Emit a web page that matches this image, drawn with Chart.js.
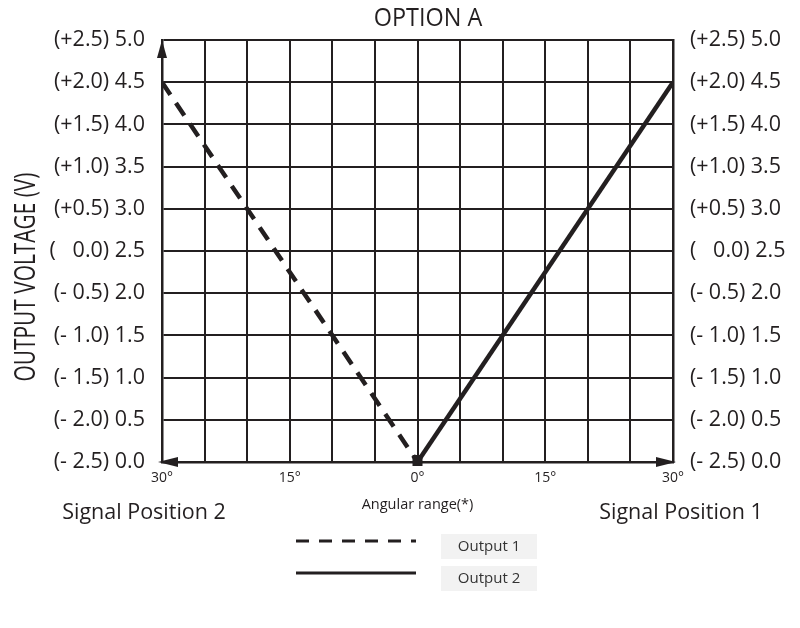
<!DOCTYPE html>
<html>
<head>
<meta charset="utf-8">
<script src="https://cdn.jsdelivr.net/npm/chart.js@4.4.1/dist/chart.umd.min.js"></script>
<style>
  html, body { margin: 0; padding: 0; background: #fff; }
  #wrap { width: 800px; height: 628px; }
</style>
</head>
<body>
<div id="wrap"><canvas id="optionA" width="800" height="628"></canvas></div>
<script>
// data
const out1Angle = [-30, 0];     // Output 1, signal position 2 side
const out1Volt  = [4.5, 0];
const out2Angle = [0, 30];      // Output 2, signal position 1 side
const out2Volt  = [0, 4.5];

const angleTickValues = [-30, -15, 0, 15, 30];
const angleTickText   = ['30°', '15°', '0°', '15°', '30°'];
const voltTickLabels  = ['(- 2.5) 0.0', '(- 2.0) 0.5', '(- 1.5) 1.0', '(- 1.0) 1.5', '(- 0.5) 2.0',
                         '(   0.0) 2.5', '(+0.5) 3.0', '(+1.0) 3.5', '(+1.5) 4.0', '(+2.0) 4.5', '(+2.5) 5.0'];
const legendNames = ['Output 1', 'Output 2'];

const ink = '#231f20';
const tickFont = { family: 'Open Sans', size: 21.5 };

function toPoints(xs, ys) {
  return xs.map((x, i) => ({ x: x, y: ys[i] }));
}

// condensed text: squeeze horizontally
function narrowText(ctx, text, x, y, rot, squeeze) {
  ctx.save();
  ctx.translate(x, y);
  ctx.rotate(rot);
  ctx.scale(squeeze, 1);
  ctx.fillText(text, 0, 0);
  ctx.restore();
}

// extra drawing: titles, arrows, origin mark, side labels, legend
const decorations = {
  id: 'decorations',
  afterDraw(chart) {
    const ctx = chart.ctx;
    const a = chart.chartArea;
    const xs = chart.scales.x;
    ctx.save();
    ctx.fillStyle = ink;
    ctx.textBaseline = 'middle';
    ctx.textAlign = 'center';

    // title + y title
    ctx.font = '500 26px "Open Sans", sans-serif';
    narrowText(ctx, 'OPTION A', 428, 19, 0, 0.9);
    ctx.font = '29px "Open Sans", sans-serif';
    narrowText(ctx, 'OUTPUT VOLTAGE (V)', 27, 277, -Math.PI / 2, 0.72);

    // arrows
    ctx.beginPath();
    ctx.moveTo(a.left, a.top); ctx.lineTo(a.left - 5, a.top + 18); ctx.lineTo(a.left + 5, a.top + 18);
    ctx.closePath(); ctx.fill();
    ctx.beginPath();
    ctx.moveTo(a.left - 4, a.bottom); ctx.lineTo(a.left + 16, a.bottom - 5); ctx.lineTo(a.left + 16, a.bottom + 5);
    ctx.closePath(); ctx.fill();
    ctx.beginPath();
    ctx.moveTo(a.right + 3, a.bottom); ctx.lineTo(a.right - 17, a.bottom - 5); ctx.lineTo(a.right - 17, a.bottom + 5);
    ctx.closePath(); ctx.fill();

    // origin mark
    const ox = xs.getPixelForValue(0);
    ctx.fillRect(ox - 5, a.bottom - 7, 10, 11);

    // side labels
    ctx.font = '21.5px "Open Sans", sans-serif';
    ctx.fillText('Signal Position 2', 144, 513);
    ctx.fillText('Signal Position 1', 681, 513);

    // legend
    const rows = [541, 573];
    rows.forEach((y, i) => {
      ctx.strokeStyle = ink;
      ctx.lineWidth = 3;
      ctx.setLineDash(i === 0 ? [13, 10] : []);
      ctx.beginPath();
      ctx.moveTo(296, y); ctx.lineTo(416, y);
      ctx.stroke();
      ctx.setLineDash([]);
      ctx.fillStyle = '#f2f2f2';
      ctx.fillRect(441, y - 7, 96, 25);
      ctx.fillStyle = '#333';
      ctx.font = '15px "Open Sans", sans-serif';
      ctx.fillText(legendNames[i], 489, y + 6);
    });
    ctx.restore();
  }
};

new Chart(document.getElementById('optionA'), {
  type: 'line',
  data: {
    datasets: [
      {
        label: legendNames[0],
        data: toPoints(out1Angle, out1Volt),
        borderColor: ink,
        borderWidth: 4.5,
        borderDash: [15, 10],
        pointRadius: 0,
        yAxisID: 'y'
      },
      {
        label: legendNames[1],
        data: toPoints(out2Angle, out2Volt),
        borderColor: ink,
        borderWidth: 4.5,
        pointRadius: 0,
        yAxisID: 'y'
      }
    ]
  },
  options: {
    responsive: false,
    animation: false,
    layout: { padding: { top: 40, left: 0, right: 0, bottom: 106 } },
    plugins: {
      legend: { display: false },
      tooltip: { enabled: false }
    },
    scales: {
      x: {
        type: 'linear',
        min: -30, max: 30,
        afterBuildTicks(s) { s.ticks = []; for (let v = -30; v <= 30; v += 5) s.ticks.push({ value: v }); },
        afterFit(s) { s.height = 60; },
        ticks: {
          autoSkip: false,
          maxRotation: 0,
          padding: 8,
          color: ink,
          font: { family: 'Open Sans', size: 14 },
          callback: (v) => {
            const k = angleTickValues.indexOf(v);
            return k < 0 ? '' : angleTickText[k];
          }
        },
        grid: { color: ink, lineWidth: 2, drawTicks: false },
        border: { color: ink, width: 2.5 },
        title: {
          display: true,
          text: 'Angular range(*)',
          color: ink,
          font: { family: 'Open Sans', size: 14.5 },
          padding: { top: 0, bottom: 8 }
        }
      },
      y: {
        position: 'left',
        min: 0, max: 5,
        afterFit(s) { s.width = 162; },
        ticks: {
          stepSize: 0.5,
          padding: 17,
          color: ink,
          font: tickFont,
          callback: (v, i) => voltTickLabels[i]
        },
        grid: { color: ink, lineWidth: 2, drawTicks: false },
        border: { color: ink, width: 2.5 }
      },
      y2: {
        position: 'right',
        min: 0, max: 5,
        afterFit(s) { s.width = 127; },
        ticks: {
          stepSize: 0.5,
          padding: 17,
          color: ink,
          font: tickFont,
          callback: (v, i) => voltTickLabels[i]
        },
        grid: { display: false, drawTicks: false },
        border: { color: ink, width: 2.5 }
      }
    }
  },
  plugins: [decorations]
});
</script>
</body>
</html>
